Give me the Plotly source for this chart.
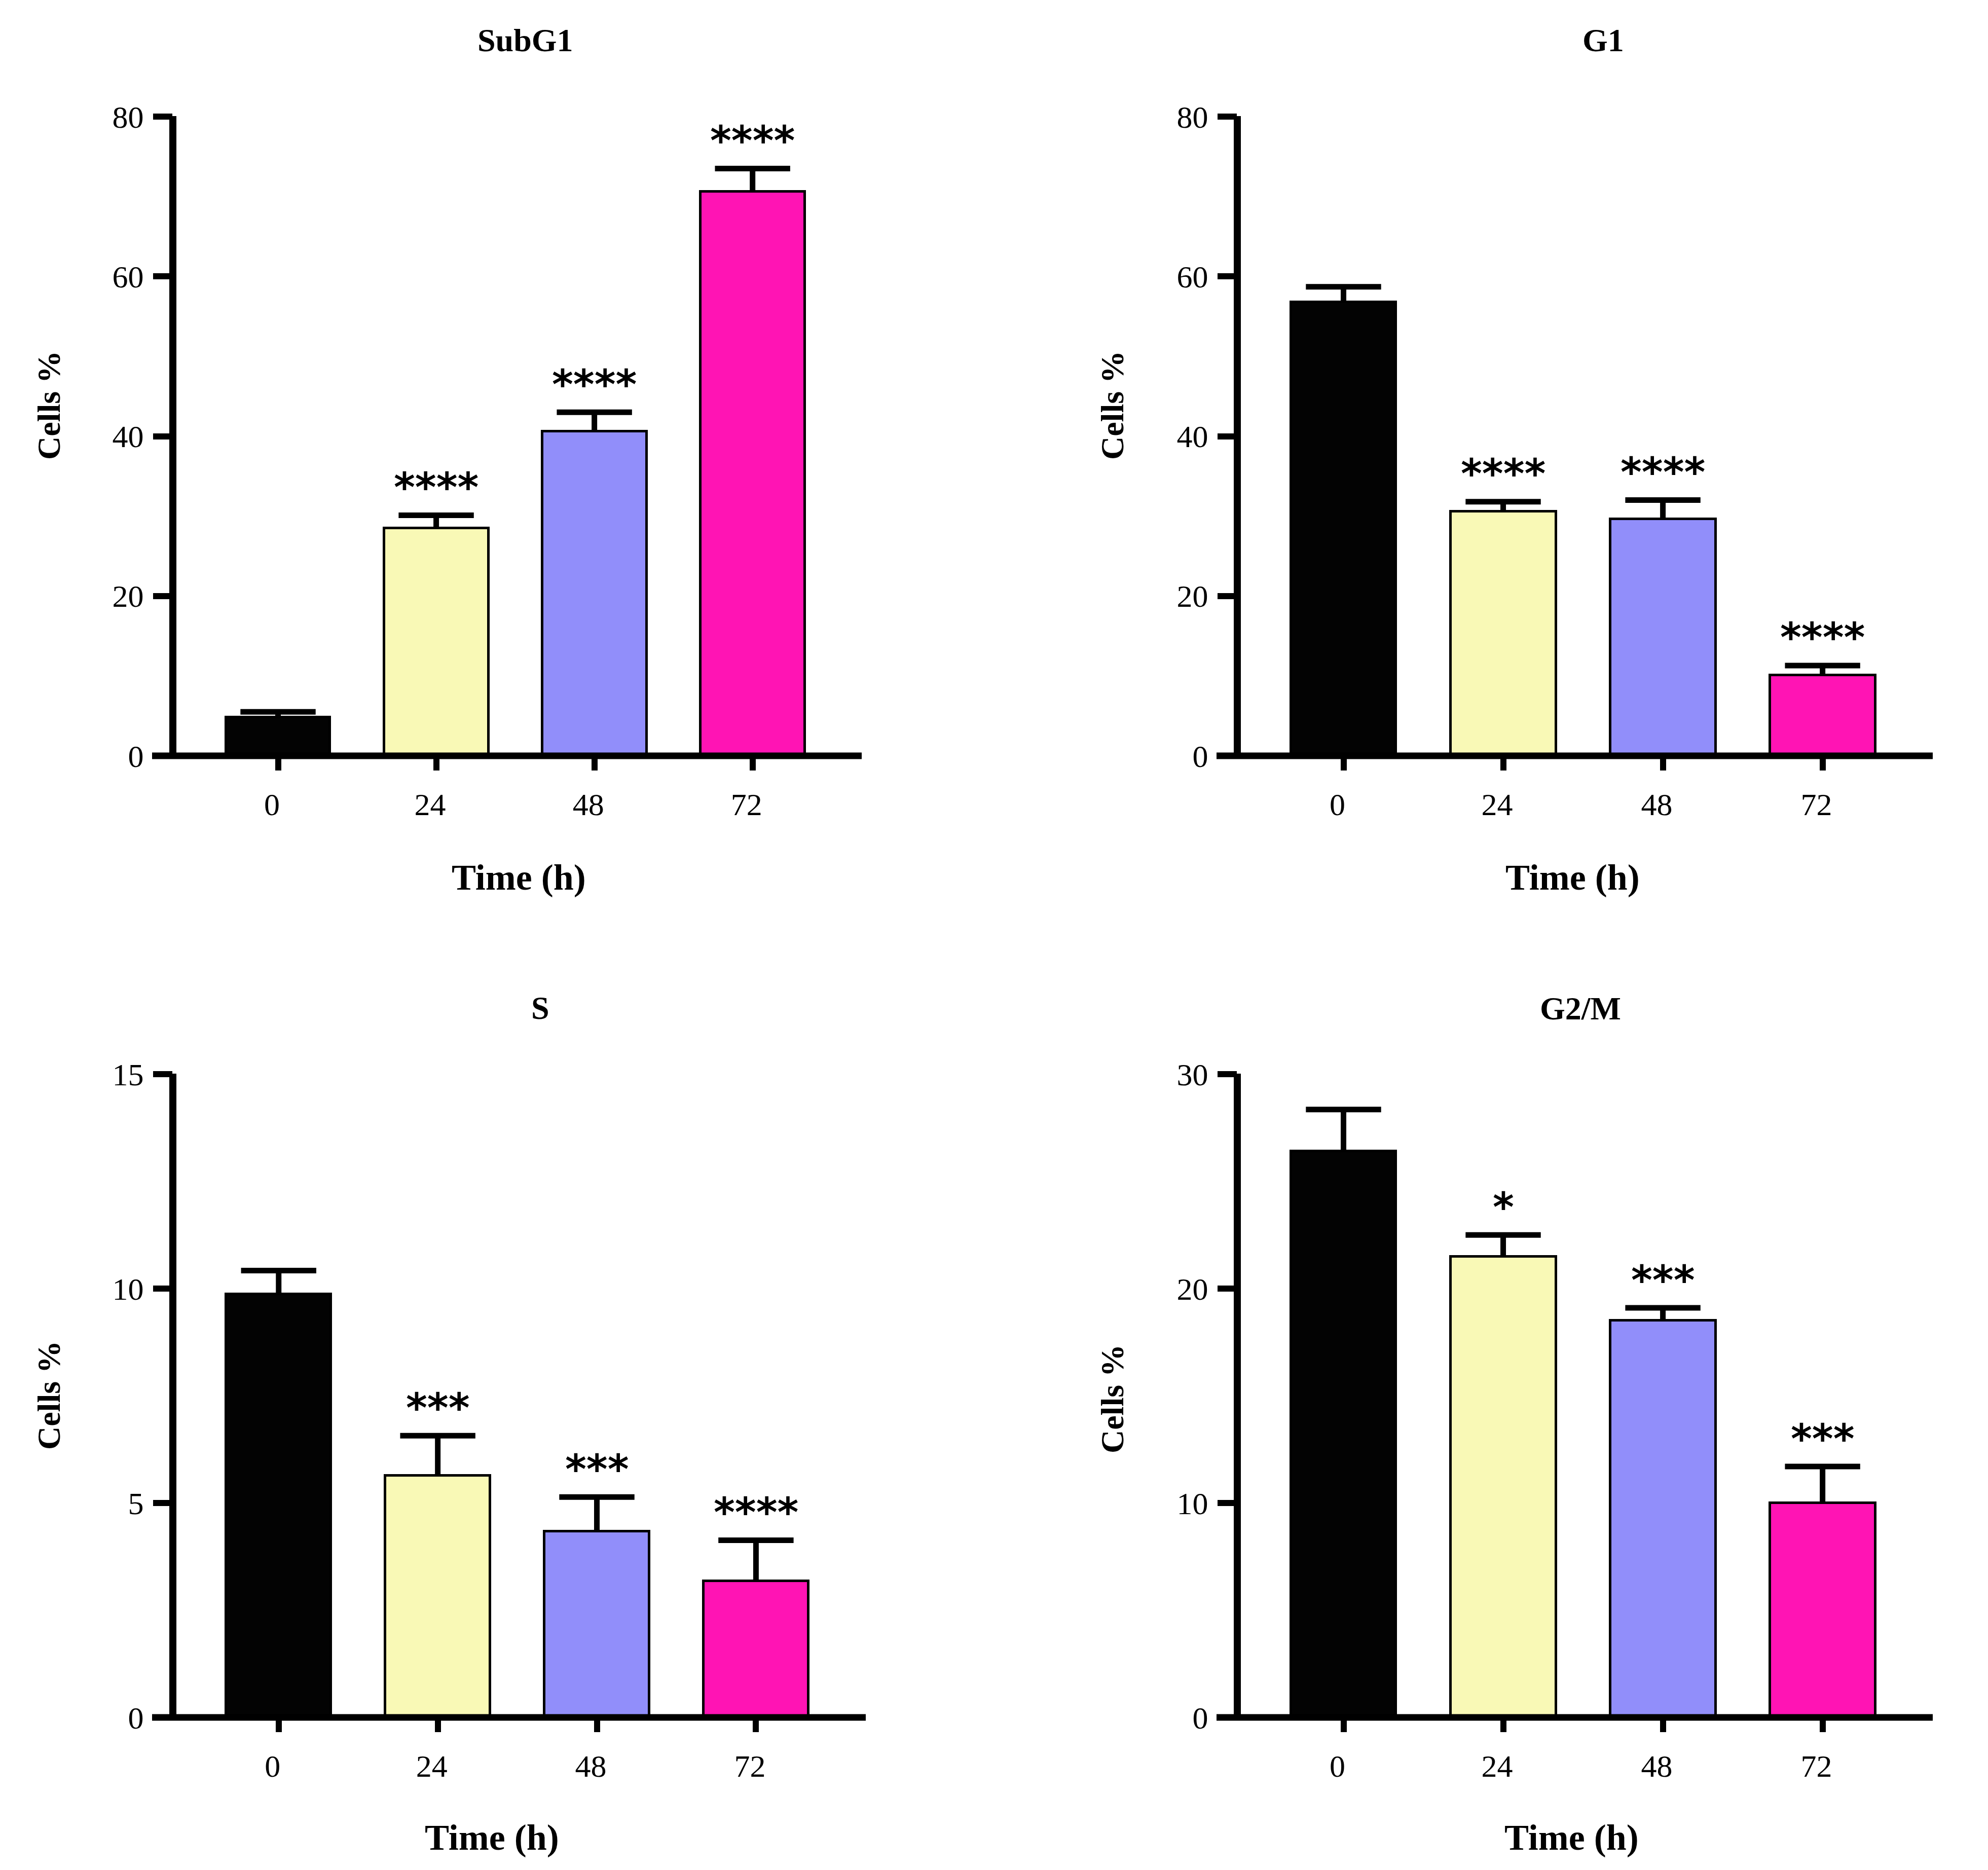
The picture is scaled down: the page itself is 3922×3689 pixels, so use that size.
import plotly.graph_objects as go

# time points (h)
times = ["0", "24", "48", "72"]

# mean cells % per phase
subg1_mean = [4.8, 28.5, 40.6, 70.6]
subg1_sd = [0.7, 1.6, 2.4, 2.9]
g1_mean = [56.8, 30.6, 29.6, 10.1]
g1_sd = [1.9, 1.2, 2.4, 1.2]
s_mean = [9.87, 5.64, 4.34, 3.18]
s_sd = [0.55, 0.93, 0.8, 0.95]
g2m_mean = [26.4, 21.5, 18.5, 10.0]
g2m_sd = [1.95, 1.0, 0.6, 1.7]

# significance marks vs 0 h
subg1_stars = ["", "****", "****", "****"]
g1_stars = ["", "****", "****", "****"]
s_stars = ["", "***", "***", "****"]
g2m_stars = ["", "*", "***", "***"]

y_max = [80, 80, 15, 30]
y_step = [20, 20, 5, 10]
titles = ["SubG1", "G1", "S", "G2/M"]

bar_colors = ["#030303", "#F9F9B6", "#918EFA", "#FF14B4"]

W, H = 3922, 3689
SERIF = "Liberation Serif"


def fx(p):
    return p / W


def fy(p):
    return 1 - p / H


# pixel frames of each panel: (x_left, x_right, y_zero, y_top)
frames = [
    (333, 1692, 1483, 222),
    (2433, 3805, 1483, 222),
    (333, 1700, 3380, 2111),
    (2433, 3805, 3380, 2111),
]
# title / axis title pixel centres
title_pos = [(1028, 72), (3155, 72), (1058, 1980), (3110, 1982)]
ylab_pos = [(88, 792), (2186, 792), (88, 2745), (2186, 2752)]
xlab_pos = [(1016, 1723), (3094, 1723), (962, 3617), (3092, 3617)]

panels = [
    (subg1_mean, subg1_sd, subg1_stars),
    (g1_mean, g1_sd, g1_stars),
    (s_mean, s_sd, s_stars),
    (g2m_mean, g2m_sd, g2m_stars),
]

fig = go.Figure()
xs = list(range(len(times)))

for n, (mean, sd, stars) in enumerate(panels, start=1):
    xa = "x" if n == 1 else f"x{n}"
    ya = "y" if n == 1 else f"y{n}"
    fig.add_trace(
        go.Bar(
            x=xs,
            y=mean,
            width=0.66,
            marker=dict(color=bar_colors, line=dict(color="black", width=5)),
            error_y=dict(
                type="data",
                array=sd,
                arrayminus=[0] * len(sd),
                symmetric=False,
                color="black",
                thickness=11,
                width=0,
            ),
            xaxis=xa,
            yaxis=ya,
            showlegend=False,
        )
    )
    # caps only on the upper end of the error bars
    fig.add_trace(
        go.Scatter(
            x=xs,
            y=[m + s for m, s in zip(mean, sd)],
            mode="markers",
            marker=dict(symbol="line-ew", size=106, line=dict(color="black", width=11)),
            xaxis=xa,
            yaxis=ya,
            showlegend=False,
            hoverinfo="skip",
        )
    )
    for i, st in enumerate(stars):
        if st:
            fig.add_annotation(
                x=i, y=mean[i] + sd[i], xref=xa, yref=ya,
                text=st, showarrow=False, xanchor="center", yanchor="middle", yshift=55,
                font=dict(family="DejaVu Sans", size=80, color="black", weight="bold"),
            )

    x0, x1, yz, yt = frames[n - 1]
    fig.update_layout(**{
        ("xaxis" if n == 1 else f"xaxis{n}"): dict(
            domain=[fx(x0), fx(x1)], anchor=ya, range=[-0.665, 3.69],
            tickvals=xs, ticktext=times, ticks="outside", ticklen=28, tickwidth=12,
            tickcolor="black", showline=False, showgrid=False, zeroline=False,
            automargin=False, ticklabelshift=-12,
            ticklabelstandoff=14, tickfont=dict(family=SERIF, size=62, color="black"),
        ),
        ("yaxis" if n == 1 else f"yaxis{n}"): dict(
            domain=[fy(yz), fy(yt)], anchor=xa, range=[0, y_max[n - 1]],
            dtick=y_step[n - 1], ticks="outside", ticklen=38, tickwidth=12,
            tickcolor="black", showline=False, showgrid=False, zeroline=False,
            automargin=False,
            ticklabelstandoff=6, tickfont=dict(family=SERIF, size=62, color="black"),
        ),
    })
    # thick Prism-style axis lines (paper refs so they are not clipped)
    fig.add_shape(type="line", xref="paper", yref="paper", x0=fx(x0), x1=fx(x0),
                  y0=fy(yz + 6), y1=fy(yt - 1), line=dict(color="black", width=14), layer="above")
    fig.add_shape(type="line", xref="paper", yref="paper", x0=fx(x0 - 41), x1=fx(x1),
                  y0=fy(yz), y1=fy(yz), line=dict(color="black", width=13), layer="above")

    tx, ty = title_pos[n - 1]
    fig.add_annotation(x=fx(tx), y=fy(ty), xref="paper", yref="paper", text=titles[n - 1],
                       xanchor="center", yanchor="middle", showarrow=False,
                       font=dict(family=SERIF, size=64, color="black", weight="bold"))
    lx, ly = ylab_pos[n - 1]
    fig.add_annotation(x=fx(lx), y=fy(ly), xref="paper", yref="paper", text="Cells %",
                       xanchor="center", yanchor="middle", textangle=-90, showarrow=False,
                       font=dict(family=SERIF, size=64, color="black", weight="bold"))
    bx, by = xlab_pos[n - 1]
    fig.add_annotation(x=fx(bx), y=fy(by), xref="paper", yref="paper", text="Time (h)",
                       xanchor="center", yanchor="middle", showarrow=False,
                       font=dict(family=SERIF, size=72, color="black", weight="bold"))

fig.update_layout(
    width=W,
    height=H,
    margin=dict(l=0, r=0, t=0, b=0),
    plot_bgcolor="white",
    paper_bgcolor="white",
    bargap=0,
)

fig.write_html("out.html")
